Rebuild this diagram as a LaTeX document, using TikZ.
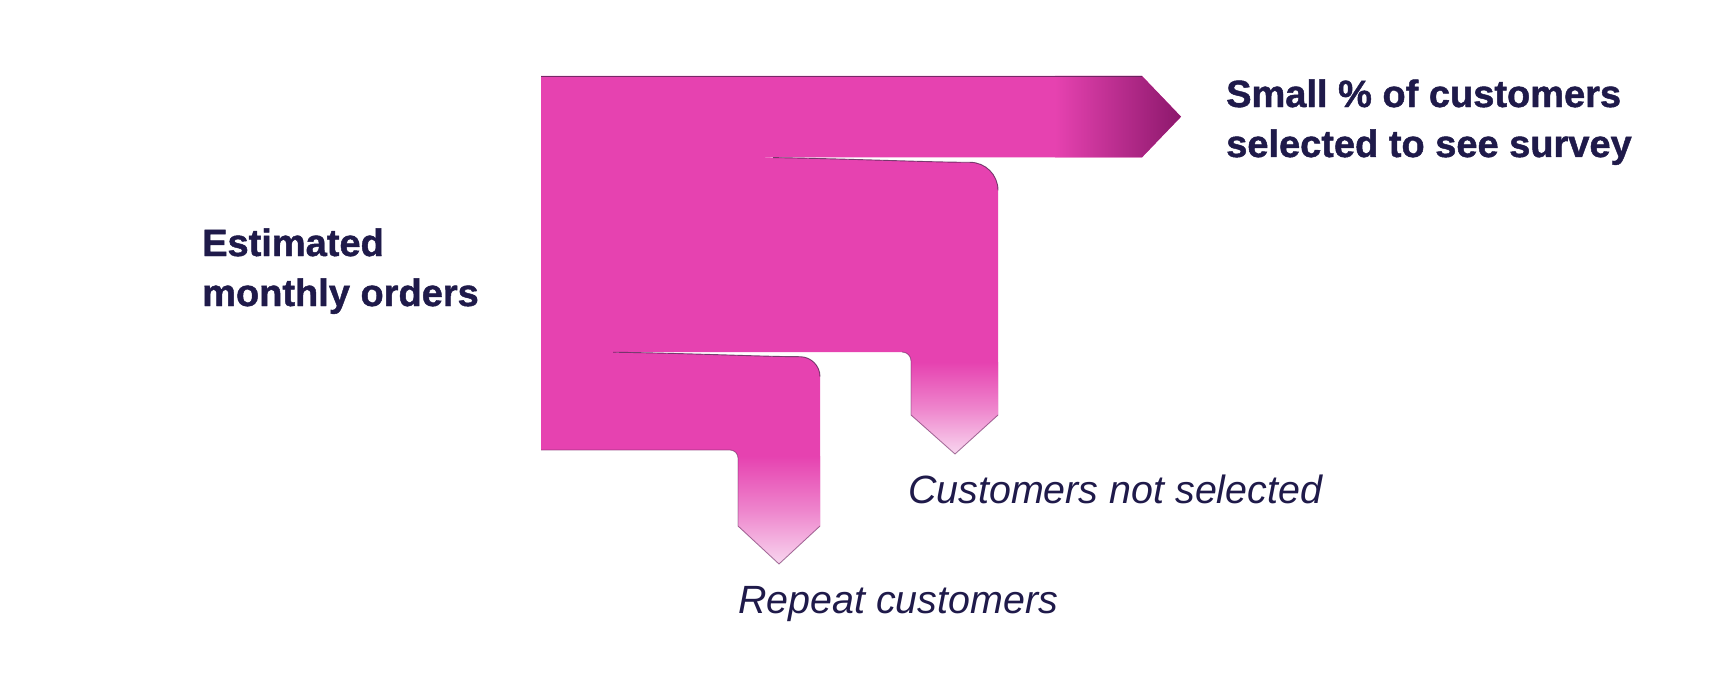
\documentclass[tikz,border=0pt]{standalone}
\usepackage{fontspec}
\setmainfont{Liberation Sans}
\newfontfamily\heavyfont[FakeBold=1.2]{Liberation Sans Bold}
\definecolor{fpink}{RGB}{230,66,176}
\definecolor{fdark}{RGB}{140,24,108}
\definecolor{flight}{RGB}{248,214,239}
\definecolor{fedge}{RGB}{90,35,85}
\definecolor{ftext}{RGB}{31,26,74}
\tikzset{
  flow/.style={fill=fpink, draw=none},
  edgeline/.style={draw=fedge, line width=0.9pt, draw opacity=0.8},
  fadeflow/.style={top color=fpink, bottom color=flight, middle color=fpink!55!flight, draw=none},
  boldlabel/.style={font=\fontsize{38}{50}\selectfont\heavyfont, text=ftext, align=left, inner sep=0pt, anchor=base west},
  itlabel/.style={font=\fontsize{39.4}{46}\selectfont\itshape, text=ftext, inner sep=0pt, anchor=base west},
}
\begin{document}
\begin{tikzpicture}[x=1pt,y=-1pt]
\useasboundingbox[fill=white] (0,0) rectangle (1728,690);

% middle branch (customers not selected)
\fill[flow] (541,140) -- (765,140) -- (765,157.3) -- (773,157.6)
  .. controls (860,159) and (930,162.3) .. (970,162.3)
  .. controls (985.5,162.3) and (998,174.8) .. (998,190.3)
  -- (998,415) -- (955,454) -- (911,415) -- (911,361)
  .. controls (911,356) and (907,352) .. (902,352) -- (541,352) -- cycle;
\shade[fadeflow] (911,362) -- (998,362) -- (998,415) -- (955,454) -- (911,415) -- cycle;

% lower branch (repeat customers)
\fill[flow] (541,340) -- (605,340) -- (605,352) -- (613,352.2)
  .. controls (700,353.5) and (765,356.7) .. (800,356.7)
  .. controls (811,356.7) and (820,365.7) .. (820,376.7)
  -- (820,526) -- (779,564) -- (738,526) -- (738,458)
  .. controls (738,453.6) and (734.4,450) .. (730,450) -- (541,450) -- cycle;
\shade[fadeflow] (738,456) -- (820,456) -- (820,526) -- (779,564) -- (738,526) -- cycle;

% top branch (selected)
\fill[flow] (541,76) -- (1142,76) -- (1181,116.7) -- (1142,157.3) -- (541,157.3) -- cycle;
\shade[left color=fpink, right color=fdark, draw=none] (1055,76) -- (1142,76) -- (1181,116.7) -- (1142,157.3) -- (1055,157.3) -- cycle;

% thin edges
\draw[edgeline] (541,76) -- (1142,76);
\draw[edgeline] (773,157.6) .. controls (860,159) and (930,162.3) .. (970,162.3)
  .. controls (985.5,162.3) and (998,174.8) .. (998,190.3);
\draw[edgeline] (613,352.2) .. controls (700,353.5) and (765,356.7) .. (800,356.7)
  .. controls (811,356.7) and (820,365.7) .. (820,376.7);
\draw[edgeline, draw opacity=0.5] (541,450) -- (730,450) .. controls (734.4,450) and (738,453.6) .. (738,458) -- (738,526) -- (779,564) -- (820,526);
\draw[edgeline, draw opacity=0.5] (902,352) .. controls (907,352) and (911,356) .. (911,361) -- (911,415) -- (955,454) -- (998,415);

% labels
\node[boldlabel] (orders) at (202,306) {Estimated\\monthly orders};
\node[boldlabel] (selected) at (1226,157) {Small \% of customers\\selected to see survey};
\node[itlabel] (notsel) at (908,503) {Customers not selected};
\node[itlabel] (repeat) at (738,613) {Repeat customers};
\end{tikzpicture}
\end{document}
